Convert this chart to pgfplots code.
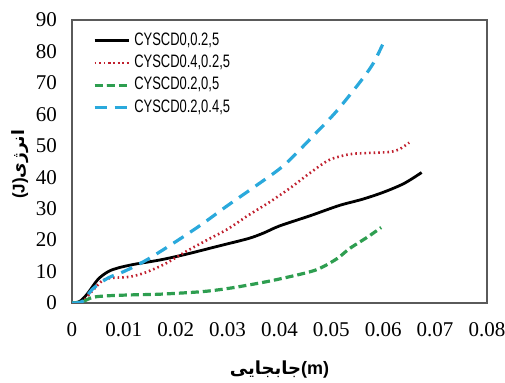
\documentclass[border=0pt]{standalone}
\usepackage{pgfplots}
\pgfplotsset{compat=1.18}
\usepackage{fontspec}
\setmainfont{Liberation Serif}
\newfontfamily\legfont[FakeStretch=0.72]{Liberation Sans}
\newfontfamily\labsans{Liberation Sans}
\newfontfamily\arabicfont[Script=Arabic]{DejaVu Sans}
\TeXXeTstate=1
\definecolor{framegray}{HTML}{5A5A5A}
\definecolor{cred}{HTML}{C0202E}
\definecolor{cgreen}{HTML}{2E9E50}
\definecolor{cblue}{HTML}{2AA9DC}

% energy (J) vs displacement (m)
\pgfplotstableread{
x y
0 0
0.0015 0.5
0.003 3
0.005 7.5
0.007 10
0.009 11.2
0.012 12.3
0.017 13.7
0.022 15.5
0.028 18
0.034 20.5
0.037 22.3
0.04 24.5
0.046 27.8
0.0515 31
0.056 33
0.06 35.2
0.064 38
0.0674 41.5
}\tabA
\pgfplotstableread{
x y
0 0
0.002 0.5
0.004 4
0.006 7.3
0.008 8
0.011 8.3
0.014 9.6
0.018 12.5
0.022 16.4
0.026 20
0.03 23.5
0.034 27.9
0.038 32
0.042 36.5
0.046 41.5
0.0496 45.5
0.0535 47.3
0.057 47.7
0.061 48
0.063 48.8
0.065 51
}\tabB
\pgfplotstableread{
x y
0 0
0.002 0.4
0.004 1.8
0.007 2.3
0.012 2.6
0.017 2.8
0.025 3.6
0.03 4.6
0.036 6.3
0.041 8
0.047 10.5
0.051 14
0.0535 17.3
0.057 21
0.0596 24
}\tabC
\pgfplotstableread{
x y
0 0
0.002 0.5
0.004 4.5
0.007 8
0.010 10
0.0144 13.7
0.02 19.5
0.025 25
0.03 31
0.036 37.9
0.041 44
0.047 54
0.051 61
0.0554 70
0.058 76
0.060 82.6
}\tabD

\begin{document}
\begin{tikzpicture}
\useasboundingbox (-36pt,-40pt) rectangle (216.5pt,151.5pt);
\begin{axis}[
  width=207.5pt, height=141.5pt, scale only axis,
  xmin=0, xmax=0.08, ymin=0, ymax=90,
  xtick={0,0.01,0.02,0.03,0.04,0.05,0.06,0.07,0.08},
  xticklabels={0,0.01,0.02,0.03,0.04,0.05,0.06,0.07,0.08},
  scaled x ticks=false,
  ytick={0,10,20,30,40,50,60,70,80,90},
  /pgf/number format/assume math mode=true,
  major tick length=0pt,
  axis line style={framegray, line width=0.8pt},
  tick label style={font=\fontsize{10.5}{12}\selectfont, text=black},
  xticklabel style={yshift=-6pt},
  yticklabel style={xshift=-4pt},
  xlabel={{\arabicfont\bfseries\beginR جابجایی\endR}{\labsans\bfseries(m)}},
  xlabel style={at={(axis description cs:0.5,-0.235)}, anchor=center, font=\fontsize{9}{10}\selectfont},
  ylabel={{\labsans\bfseries(J)}{\arabicfont\bfseries\beginR انرژی\endR}},
  ylabel style={at={(axis description cs:-0.125,0.49)}, anchor=center, font=\fontsize{8.5}{10}\selectfont},
  legend style={draw=none, fill=none, at={(axis description cs:0.035,0.985)}, anchor=north west,
    font=\legfont\fontsize{9}{10}\selectfont, row sep=-0.6pt},
  legend cell align=left,
]
\addplot[black, line width=1.4pt, smooth] table {\tabA};
\addlegendentry{CYSCD0,0.2,5}
\addplot[cred, line width=1.3pt, smooth, dash pattern=on 0.8pt off 1.5pt] table {\tabB};
\addlegendentry{CYSCD0.4,0.2,5}
\addplot[cgreen, line width=1.6pt, smooth, dash pattern=on 4pt off 2pt] table {\tabC};
\addlegendentry{CYSCD0.2,0,5}
\addplot[cblue, line width=1.6pt, smooth, dash pattern=on 6pt off 4pt] table {\tabD};
\addlegendentry{CYSCD0.2,0.4,5}
\end{axis}
\end{tikzpicture}
\end{document}
